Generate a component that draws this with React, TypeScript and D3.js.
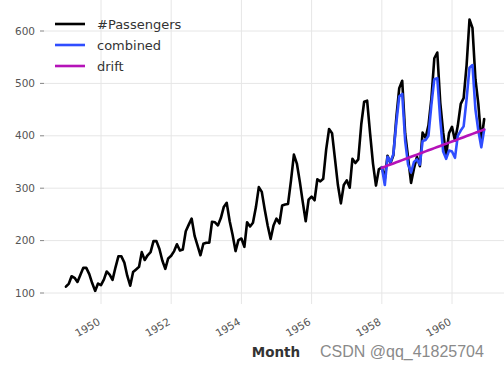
import React from "react"
import * as d3 from "d3"

// monthly values, starting Jan 1949
const passengers = [
  112, 118, 132, 129, 121, 135, 148, 148, 136, 119, 104, 118,
  115, 126, 141, 135, 125, 149, 170, 170, 158, 133, 114, 140,
  145, 150, 178, 163, 172, 178, 199, 199, 184, 162, 146, 166,
  171, 180, 193, 181, 183, 218, 230, 242, 209, 191, 172, 194,
  196, 196, 236, 235, 229, 243, 264, 272, 237, 211, 180, 201,
  204, 188, 235, 227, 234, 264, 302, 293, 259, 229, 203, 229,
  242, 233, 267, 269, 270, 315, 364, 347, 312, 274, 237, 278,
  284, 277, 317, 313, 318, 374, 413, 405, 355, 306, 271, 306,
  315, 301, 356, 348, 355, 422, 465, 467, 404, 347, 305, 336,
  340, 318, 362, 348, 363, 435, 491, 505, 404, 359, 310, 337,
  360, 342, 406, 396, 420, 472, 548, 559, 463, 407, 362, 405,
  417, 391, 419, 461, 472, 535, 622, 606, 508, 461, 390, 432,
]

// forecasts, starting Jan 1958
const combined = [
  340, 306, 360, 350, 365, 425, 475, 480, 390, 345, 330, 350,
  355, 345, 390, 392, 400, 460, 508, 510, 430, 370, 356, 372,
  370, 358, 400, 410, 418, 470, 530, 535, 450, 410, 378, 412,
]
const drift = [
  339, 341.1, 343.2, 345.3, 347.3, 349.4, 351.5, 353.6, 355.7, 357.8, 359.9, 361.9,
  364, 366.1, 368.2, 370.3, 372.4, 374.5, 376.5, 378.6, 380.7, 382.8, 384.9, 387,
  389.1, 391.1, 393.2, 395.3, 397.4, 399.5, 401.6, 403.7, 405.7, 407.8, 409.9, 412,
]

const yTicks = [100, 200, 300, 400, 500, 600]
const xTickYears = [1950, 1952, 1954, 1956, 1958, 1960]

const series = [
  { name: "#Passengers", start: new Date(1949, 0, 1), values: passengers, color: "#000000" },
  { name: "combined", start: new Date(1958, 0, 1), values: combined, color: "#2f4dff" },
  { name: "drift", start: new Date(1958, 0, 1), values: drift, color: "#b512b8" },
]

export default function App() {
  const W = 504
  const H = 368
  const left = 44
  const bottom = 304

  const x = d3.scaleTime()
    .domain([new Date(1950, 0, 1), new Date(1960, 0, 1)])
    .range([101, 452])
  const y = d3.scaleLinear().domain([100, 600]).range([293, 31])

  const line = d3.line<[Date, number]>()
    .x(d => x(d[0]))
    .y(d => y(d[1]))

  const pts = (s: typeof series[0]) =>
    s.values.map((v, i) => [d3.timeMonth.offset(s.start, i), v] as [Date, number])

  return (
    <svg width={W} height={H} style={{ position: "absolute", left: 0, top: 0, background: "#fff" }}
      fontFamily="DejaVu Sans, sans-serif">
      {/* grid + ticks */}
      {yTicks.map(t => (
        <g key={"y" + t}>
          <line x1={left} x2={W} y1={y(t)} y2={y(t)} stroke="#e6e6e6" strokeWidth={1} />
          <line x1={40} x2={44} y1={y(t)} y2={y(t)} stroke="#666" strokeWidth={0.8} />
          <text x={35} y={y(t)} dy="0.35em" textAnchor="end" fontSize={10.5} fill="#555">{t}</text>
        </g>
      ))}
      {xTickYears.map(yr => {
        const xx = x(new Date(yr, 0, 1))
        return (
          <g key={"x" + yr}>
            <line x1={xx} x2={xx} y1={0} y2={bottom} stroke="#e6e6e6" strokeWidth={1} />
            <text transform={`translate(${xx},${324}) rotate(-30)`} textAnchor="end"
              fontSize={10.5} fill="#555">{yr}</text>
          </g>
        )
      })}

      {series.map(s => (
        <path key={s.name} d={line(pts(s)) || ""} fill="none" stroke={s.color}
          strokeWidth={2.6} strokeLinejoin="round" strokeLinecap="round" />
      ))}

      {/* legend */}
      {series.map((s, i) => (
        <g key={"lg" + s.name} transform={`translate(0,${24 + i * 21})`}>
          <line x1={55} x2={85} y1={0} y2={0} stroke={s.color} strokeWidth={2.6} />
          <text x={97} y={0} dy="0.35em" fontSize={13} fill="#333">{s.name}</text>
        </g>
      ))}

      <text x={276} y={357} textAnchor="middle" fontSize={13.5} fontWeight="bold" fill="#333">Month</text>
      <text x={320} y={357} fontSize={16} fill="#8a8a8a" fontFamily="Liberation Sans, Arial, sans-serif">CSDN @qq_41825704</text>
    </svg>
  )
}
